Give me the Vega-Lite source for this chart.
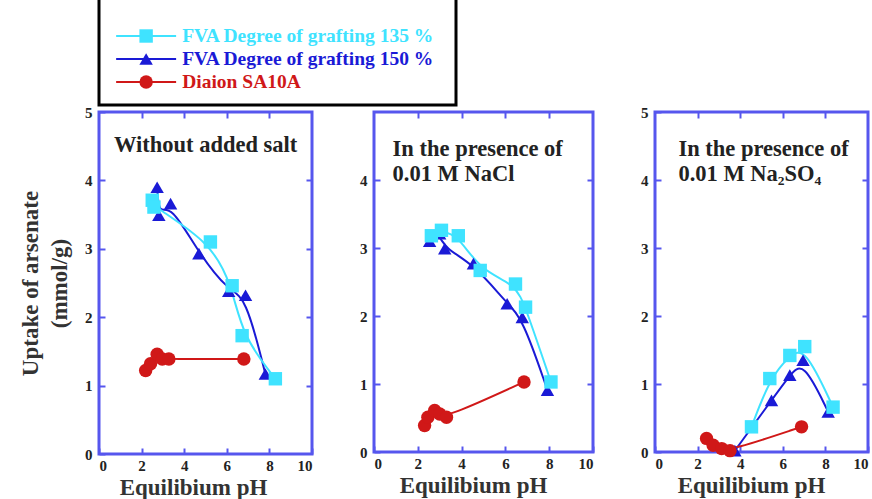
{
  "$schema": "https://vega.github.io/schema/vega-lite/v6.json",
  "background": "white",
  "padding": {"left": 18, "top": -12, "right": 0, "bottom": 0},
  "spacing": -4,
  "datasets": {
    "pts": [
      {"p": "1", "s": "150", "ph": 2.73, "u": 3.90},
      {"p": "1", "s": "150", "ph": 2.81, "u": 3.49},
      {"p": "1", "s": "150", "ph": 3.36, "u": 3.66},
      {"p": "1", "s": "150", "ph": 4.69, "u": 2.93},
      {"p": "1", "s": "150", "ph": 6.09, "u": 2.38},
      {"p": "1", "s": "150", "ph": 6.88, "u": 2.32},
      {"p": "1", "s": "150", "ph": 7.81, "u": 1.17},
      {"p": "1", "s": "135", "ph": 2.50, "u": 3.71},
      {"p": "1", "s": "135", "ph": 2.58, "u": 3.61},
      {"p": "1", "s": "135", "ph": 5.23, "u": 3.10},
      {"p": "1", "s": "135", "ph": 6.25, "u": 2.46},
      {"p": "1", "s": "135", "ph": 6.72, "u": 1.73},
      {"p": "1", "s": "135", "ph": 8.28, "u": 1.10},
      {"p": "1", "s": "D", "ph": 2.19, "u": 1.22},
      {"p": "1", "s": "D", "ph": 2.42, "u": 1.32},
      {"p": "1", "s": "D", "ph": 2.73, "u": 1.46},
      {"p": "1", "s": "D", "ph": 2.97, "u": 1.39},
      {"p": "1", "s": "D", "ph": 3.28, "u": 1.39},
      {"p": "1", "s": "D", "ph": 6.80, "u": 1.39},
      {"p": "2", "s": "150", "ph": 2.54, "u": 3.10},
      {"p": "2", "s": "150", "ph": 3.00, "u": 3.21},
      {"p": "2", "s": "150", "ph": 3.23, "u": 2.99},
      {"p": "2", "s": "150", "ph": 4.54, "u": 2.77},
      {"p": "2", "s": "150", "ph": 6.08, "u": 2.18},
      {"p": "2", "s": "150", "ph": 6.77, "u": 1.98},
      {"p": "2", "s": "150", "ph": 7.92, "u": 0.91},
      {"p": "2", "s": "135", "ph": 2.62, "u": 3.18},
      {"p": "2", "s": "135", "ph": 3.08, "u": 3.26},
      {"p": "2", "s": "135", "ph": 3.85, "u": 3.18},
      {"p": "2", "s": "135", "ph": 4.85, "u": 2.67},
      {"p": "2", "s": "135", "ph": 6.46, "u": 2.47},
      {"p": "2", "s": "135", "ph": 6.92, "u": 2.13},
      {"p": "2", "s": "135", "ph": 8.08, "u": 1.03},
      {"p": "2", "s": "D", "ph": 2.31, "u": 0.39},
      {"p": "2", "s": "D", "ph": 2.46, "u": 0.51},
      {"p": "2", "s": "D", "ph": 2.77, "u": 0.61},
      {"p": "2", "s": "D", "ph": 3.00, "u": 0.56},
      {"p": "2", "s": "D", "ph": 3.31, "u": 0.51},
      {"p": "2", "s": "D", "ph": 6.85, "u": 1.03},
      {"p": "3", "s": "150", "ph": 3.75, "u": 0.02},
      {"p": "3", "s": "150", "ph": 5.47, "u": 0.76},
      {"p": "3", "s": "150", "ph": 6.33, "u": 1.13},
      {"p": "3", "s": "150", "ph": 6.95, "u": 1.35},
      {"p": "3", "s": "150", "ph": 8.13, "u": 0.59},
      {"p": "3", "s": "135", "ph": 4.53, "u": 0.37},
      {"p": "3", "s": "135", "ph": 5.39, "u": 1.08},
      {"p": "3", "s": "135", "ph": 6.33, "u": 1.42},
      {"p": "3", "s": "135", "ph": 7.03, "u": 1.55},
      {"p": "3", "s": "135", "ph": 8.36, "u": 0.66},
      {"p": "3", "s": "D", "ph": 2.42, "u": 0.20},
      {"p": "3", "s": "D", "ph": 2.73, "u": 0.10},
      {"p": "3", "s": "D", "ph": 3.13, "u": 0.05},
      {"p": "3", "s": "D", "ph": 3.52, "u": 0.02},
      {"p": "3", "s": "D", "ph": 6.88, "u": 0.37}
    ],
    "titles": [
      {"p": "1", "tx": 0.7, "ty": 4.52, "t": "Without added salt"},
      {"p": "2", "tx": 0.85, "ty": 4.46, "t": "In the presence of"},
      {"p": "2", "tx": 0.85, "ty": 4.09, "t": "0.01 M NaCl"},
      {"p": "3", "tx": 1.1, "ty": 4.46, "t": "In the presence of"},
      {"p": "3", "tx": 1.1, "ty": 4.09, "t": "0.01 M Na₂SO₄"}
    ],
    "legLines": [
      {"s": "135", "x": 0.48, "r": 1},
      {"s": "135", "x": 2.16, "r": 1},
      {"s": "150", "x": 0.48, "r": 2},
      {"s": "150", "x": 2.16, "r": 2},
      {"s": "D", "x": 0.48, "r": 3},
      {"s": "D", "x": 2.16, "r": 3}
    ],
    "legSym": [
      {"s": "135", "x": 1.32, "tx": 2.33, "r": 1, "label": "FVA Degree of grafting 135 %"},
      {"s": "150", "x": 1.32, "tx": 2.33, "r": 2, "label": "FVA Degree of grafting 150 %"},
      {"s": "D", "x": 1.32, "tx": 2.33, "r": 3, "label": "Diaion SA10A"}
    ]
  },
  "vconcat": [
    {
      "width": 357, "height": 115,
      "view": {"stroke": "black", "strokeWidth": 3, "fill": "white"},
      "layer": [
        {
          "data": {"name": "legLines"},
          "mark": {"type": "line", "strokeWidth": 2},
          "encoding": {
            "x": {"field": "x", "type": "quantitative", "scale": {"domain": [0, 10]}, "axis": null},
            "y": {"field": "r", "type": "quantitative", "scale": {"domain": [-0.76, 3.93], "reverse": true}, "axis": null},
            "color": {"field": "s", "type": "nominal", "scale": {"domain": ["135", "150", "D"], "range": ["#3fe3ff", "#1a1ad6", "#d01818"]}, "legend": null},
            "detail": {"field": "s"}
          }
        },
        {
          "data": {"name": "legSym"},
          "mark": {"type": "point", "filled": true, "size": 180, "opacity": 1},
          "encoding": {
            "x": {"field": "x", "type": "quantitative", "axis": null},
            "y": {"field": "r", "type": "quantitative", "axis": null},
            "color": {"field": "s", "type": "nominal", "legend": null},
            "shape": {"field": "s", "type": "nominal", "scale": {"domain": ["135", "150", "D"], "range": ["square", "triangle-up", "circle"]}, "legend": null}
          }
        },
        {
          "data": {"name": "legSym"},
          "mark": {"type": "text", "align": "left", "baseline": "middle", "font": "Liberation Serif", "fontSize": 19.5, "fontWeight": "bold"},
          "encoding": {
            "x": {"field": "tx", "type": "quantitative", "axis": null},
            "y": {"field": "r", "type": "quantitative", "axis": null},
            "color": {"field": "s", "type": "nominal", "legend": null},
            "text": {"field": "label"}
          }
        }
      ]
    },
    {
      "spacing": 43,
      "align": "none",
      "hconcat": [
        {
          "width": 213, "height": 342,
          "layer": [
            {
              "data": {"name": "pts"},
              "transform": [{"filter": "datum.p === '1'"}],
              "mark": {"type": "line", "strokeWidth": 2, "interpolate": "basis"},
              "encoding": {
                "x": {"field": "ph", "type": "quantitative", "scale": {"domain": [0, 10]}, "axis": {"orient": "bottom", "values": [0, 2, 4, 6, 8, 10], "title": "Equilibium pH", "titleX": 94}},
                "y": {"field": "u", "type": "quantitative", "scale": {"domain": [0, 5]}, "axis": {"orient": "left", "values": [0, 1, 2, 3, 4, 5], "title": ["Uptake of arsenate", "(mmol/g)"], "titlePadding": 13, "titleLineHeight": 29}},
                "color": {"field": "s", "type": "nominal", "scale": {"domain": ["135", "150", "D"], "range": ["#3fe3ff", "#1a1ad6", "#d01818"]}, "legend": null},
                "detail": {"field": "s"}
              }
            },
            {
              "data": {"name": "pts"},
              "transform": [{"filter": "datum.p === '1'"}],
              "mark": {"type": "point", "filled": true, "size": 180, "opacity": 1},
              "encoding": {
                "x": {"field": "ph", "type": "quantitative", "axis": null},
                "y": {"field": "u", "type": "quantitative", "axis": null},
                "color": {"field": "s", "type": "nominal", "legend": null},
                "shape": {"field": "s", "type": "nominal", "scale": {"domain": ["135", "150", "D"], "range": ["square", "triangle-up", "circle"]}, "legend": null}
              }
            },
            {
              "data": {"name": "titles"},
              "transform": [{"filter": "datum.p === '1'"}],
              "mark": {"type": "text", "align": "left", "baseline": "middle", "font": "Liberation Serif", "fontSize": 22.5, "fontWeight": "bold", "color": "#222"},
              "encoding": {
                "x": {"field": "tx", "type": "quantitative", "axis": {"orient": "top", "values": [2, 4, 6, 8], "labels": false, "title": null}},
                "y": {"field": "ty", "type": "quantitative", "axis": {"orient": "right", "values": [1, 2, 3, 4], "labels": false, "title": null}},
                "text": {"field": "t"}
              }
            }
          ],
          "resolve": {"axis": {"x": "independent", "y": "independent"}}
        },
        {
          "width": 219, "height": 340,
          "layer": [
            {
              "data": {"name": "pts"},
              "transform": [{"filter": "datum.p === '2'"}],
              "mark": {"type": "line", "strokeWidth": 2, "interpolate": "basis"},
              "encoding": {
                "x": {"field": "ph", "type": "quantitative", "scale": {"domain": [0, 10]}, "axis": {"orient": "bottom", "values": [0, 2, 4, 6, 8, 10], "title": "Equilibium pH", "titleX": 99}},
                "y": {"field": "u", "type": "quantitative", "scale": {"domain": [0, 5]}, "axis": {"orient": "left", "values": [0, 1, 2, 3, 4], "title": null}},
                "color": {"field": "s", "type": "nominal", "scale": {"domain": ["135", "150", "D"], "range": ["#3fe3ff", "#1a1ad6", "#d01818"]}, "legend": null},
                "detail": {"field": "s"}
              }
            },
            {
              "data": {"name": "pts"},
              "transform": [{"filter": "datum.p === '2'"}],
              "mark": {"type": "point", "filled": true, "size": 180, "opacity": 1},
              "encoding": {
                "x": {"field": "ph", "type": "quantitative", "axis": null},
                "y": {"field": "u", "type": "quantitative", "axis": null},
                "color": {"field": "s", "type": "nominal", "legend": null},
                "shape": {"field": "s", "type": "nominal", "scale": {"domain": ["135", "150", "D"], "range": ["square", "triangle-up", "circle"]}, "legend": null}
              }
            },
            {
              "data": {"name": "titles"},
              "transform": [{"filter": "datum.p === '2'"}],
              "mark": {"type": "text", "align": "left", "baseline": "middle", "font": "Liberation Serif", "fontSize": 22.5, "fontWeight": "bold", "color": "#222"},
              "encoding": {
                "x": {"field": "tx", "type": "quantitative", "axis": {"orient": "top", "values": [2, 4, 6, 8], "labels": false, "title": null}},
                "y": {"field": "ty", "type": "quantitative", "axis": {"orient": "right", "values": [1, 2, 3, 4], "labels": false, "title": null}},
                "text": {"field": "t"}
              }
            }
          ],
          "resolve": {"axis": {"x": "independent", "y": "independent"}}
        },
        {
          "width": 213, "height": 340,
          "layer": [
            {
              "data": {"name": "pts"},
              "transform": [{"filter": "datum.p === '3'"}],
              "mark": {"type": "line", "strokeWidth": 2, "interpolate": "basis"},
              "encoding": {
                "x": {"field": "ph", "type": "quantitative", "scale": {"domain": [0, 10]}, "axis": {"orient": "bottom", "values": [0, 2, 4, 6, 8, 10], "title": "Equilibium pH", "titleX": 96}},
                "y": {"field": "u", "type": "quantitative", "scale": {"domain": [0, 5]}, "axis": {"orient": "left", "values": [0, 1, 2, 3, 4, 5], "title": null}},
                "color": {"field": "s", "type": "nominal", "scale": {"domain": ["135", "150", "D"], "range": ["#3fe3ff", "#1a1ad6", "#d01818"]}, "legend": null},
                "detail": {"field": "s"}
              }
            },
            {
              "data": {"name": "pts"},
              "transform": [{"filter": "datum.p === '3'"}],
              "mark": {"type": "point", "filled": true, "size": 180, "opacity": 1},
              "encoding": {
                "x": {"field": "ph", "type": "quantitative", "axis": null},
                "y": {"field": "u", "type": "quantitative", "axis": null},
                "color": {"field": "s", "type": "nominal", "legend": null},
                "shape": {"field": "s", "type": "nominal", "scale": {"domain": ["135", "150", "D"], "range": ["square", "triangle-up", "circle"]}, "legend": null}
              }
            },
            {
              "data": {"name": "titles"},
              "transform": [{"filter": "datum.p === '3'"}],
              "mark": {"type": "text", "align": "left", "baseline": "middle", "font": "Liberation Serif", "fontSize": 22.5, "fontWeight": "bold", "color": "#222"},
              "encoding": {
                "x": {"field": "tx", "type": "quantitative", "axis": {"orient": "top", "values": [2, 4, 6, 8], "labels": false, "title": null}},
                "y": {"field": "ty", "type": "quantitative", "axis": {"orient": "right", "values": [1, 2, 3, 4], "labels": false, "title": null}},
                "text": {"field": "t"}
              }
            }
          ],
          "resolve": {"axis": {"x": "independent", "y": "independent"}}
        }
      ]
    }
  ],
  "config": {
    "font": "Liberation Serif",
    "view": {"stroke": "#5656ee", "strokeWidth": 3},
    "axis": {
      "domain": false,
      "grid": false,
      "tickColor": "#5656ee",
      "tickSize": -6,
      "tickWidth": 2,
      "labelFont": "Liberation Serif",
      "labelFontWeight": "bold",
      "labelFontSize": 15,
      "labelColor": "#222",
      "labelPadding": 13,
      "titleFont": "Liberation Serif",
      "titleFontSize": 23,
      "titleFontWeight": "bold",
      "titleColor": "#333",
      "titlePadding": 3
    },
    "axisX": {"labelPadding": 10}
  }
}
